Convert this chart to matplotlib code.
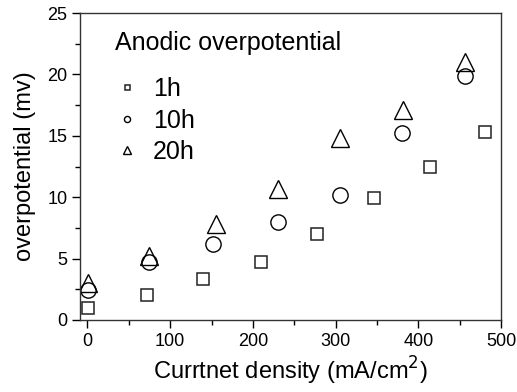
import numpy as np
import matplotlib
matplotlib.use('Agg')
import matplotlib.pyplot as plt
from matplotlib.ticker import MultipleLocator

plt.rcParams['font.family'] = ['Liberation Sans', 'DejaVu Sans']

# 1h
x_1h = [1, 72, 140, 210, 278, 346, 414, 481]
y_1h = [1.0, 2.0, 3.3, 4.75, 7.0, 9.95, 12.5, 15.35]
# 10h
x_10h = [1, 74, 152, 230, 305, 380, 456]
y_10h = [2.45, 4.7, 6.15, 8.0, 10.2, 15.2, 19.9]
# 20h
x_20h = [1, 75, 156, 230, 305, 382, 457]
y_20h = [3.05, 5.2, 7.85, 10.65, 14.85, 17.1, 21.0]

fig = plt.figure(figsize=(5.17, 3.92), dpi=100)
ax = fig.add_axes([80 / 517, 1 - 320 / 392, 421 / 517, 307 / 392])

ax.plot(x_1h, y_1h, 's', ms=9, mfc='none', mec='#222222', mew=1.1, label='1h')
ax.plot(x_10h, y_10h, 'o', ms=11, mfc='none', mec='black', mew=1.0, label='10h')
ax.plot(x_20h, y_20h, '^', ms=13, mfc='none', mec='black', mew=1.0, label='20h')

ax.set_xlim(-9, 500)
ax.set_ylim(0, 25)
ax.xaxis.set_major_locator(MultipleLocator(100))
ax.xaxis.set_minor_locator(MultipleLocator(50))
ax.yaxis.set_major_locator(MultipleLocator(5))
ax.yaxis.set_minor_locator(MultipleLocator(2.5))
ax.tick_params(which='both', direction='out', top=False, right=False, labelsize=13)
ax.tick_params(which='major', length=6, width=1, pad=3)
ax.tick_params(which='minor', length=3.5, width=1)
for s in ax.spines.values():
    s.set_linewidth(1.0)
    s.set_color('#333333')

ax.set_xlabel('Currtnet density (mA/cm$^2$)', fontsize=17, labelpad=4)
ax.set_ylabel('overpotential (mv)', fontsize=17, labelpad=8)

ax.text(115 / 517, 1 - 43 / 392, 'Anodic overpotential', fontsize=18,
        transform=fig.transFigure, ha='left', va='center')
leg = ax.legend(loc='upper left', frameon=False,
                markerscale=0.4, fontsize=18,
                handletextpad=0.55, handlelength=1.0, labelspacing=0.3,
                borderpad=0, borderaxespad=0,
                bbox_to_anchor=(114 / 517, 1 - 77 / 392), bbox_transform=fig.transFigure)

fig.savefig('out.png', dpi=100)
